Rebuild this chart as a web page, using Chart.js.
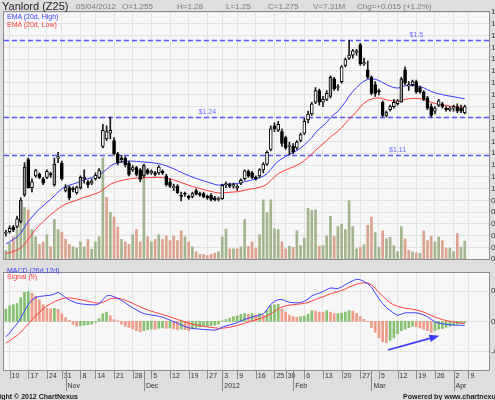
<!DOCTYPE html>
<html>
<head>
<meta charset="utf-8">
<title>Yanlord (Z25)</title>
<script src="https://cdn.jsdelivr.net/npm/chart.js@4.4.1/dist/chart.umd.min.js"></script>
<style>
  html, body { margin:0; padding:0; }
  body { width:495px; height:400px; overflow:hidden; position:relative; background:#dedede; font-family:"Liberation Sans", Arial, sans-serif; }
  canvas { position:absolute; left:-40px; }
  #main { top:0; }
  #macdc { top:266px; }
  .t { position:absolute; white-space:nowrap; line-height:1; }
  .i { font-size:8px; color:#7a7a7a; top:2.5px; }
</style>
</head>
<body>
<canvas id="main" width="580" height="266" style="width:580px;height:266px"></canvas>
<canvas id="macdc" width="580" height="134" style="width:580px;height:134px"></canvas>

<div class="t" style="left:2px;top:1px;font-size:11px;color:#222">Yanlord (Z25)</div>
<div class="t i" style="left:76px">05/04/2012</div>
<div class="t i" style="left:122px">O=1.255</div>
<div class="t i" style="left:177px">H=1.28</div>
<div class="t i" style="left:226px">L=1.25</div>
<div class="t i" style="left:268px">C=1.275</div>
<div class="t i" style="left:313px">V=7.31M</div>
<div class="t i" style="left:357px">Chg=+0.015 (+1.2%)</div>

<div class="t" style="left:7px;top:13px;font-size:7px;color:#3a3aff">EMA (20d, High)</div>
<div class="t" style="left:7px;top:20.5px;font-size:7px;color:#ff3a3a">EMA (20d, Low)</div>
<div class="t" style="left:7px;top:266.5px;font-size:7px;color:#3a3aff">MACD (26d,12d)</div>
<div class="t" style="left:7px;top:273px;font-size:7px;color:#ff3a3a">Signal (9)</div>

<div class="t" style="right:417px;top:393px;font-size:7px;font-weight:bold;color:#222">Copyright © 2012 ChartNexus</div>
<div class="t" style="left:403px;top:393px;font-size:7px;font-weight:bold;color:#222">Powered by www.chartnexus.com</div>

<script>
// ---------- DATA ----------
const dates = [
 '2011-10-07','2011-10-10','2011-10-11','2011-10-12','2011-10-13','2011-10-14','2011-10-17','2011-10-18','2011-10-19','2011-10-20',
 '2011-10-21','2011-10-24','2011-10-25','2011-10-27','2011-10-28','2011-10-31','2011-11-01','2011-11-02','2011-11-03','2011-11-04',
 '2011-11-08','2011-11-09','2011-11-10','2011-11-11','2011-11-14','2011-11-15','2011-11-16','2011-11-17','2011-11-18','2011-11-21',
 '2011-11-22','2011-11-23','2011-11-24','2011-11-25','2011-11-28','2011-11-29','2011-11-30','2011-12-01','2011-12-02','2011-12-05',
 '2011-12-06','2011-12-07','2011-12-08','2011-12-09','2011-12-12','2011-12-13','2011-12-14','2011-12-15','2011-12-16','2011-12-19',
 '2011-12-20','2011-12-21','2011-12-22','2011-12-23','2011-12-27','2011-12-28','2011-12-29','2011-12-30','2012-01-03','2012-01-04',
 '2012-01-05','2012-01-06','2012-01-09','2012-01-10','2012-01-11','2012-01-12','2012-01-13','2012-01-16','2012-01-17','2012-01-18',
 '2012-01-19','2012-01-20','2012-01-25','2012-01-26','2012-01-27','2012-01-30','2012-01-31','2012-02-01','2012-02-02','2012-02-03',
 '2012-02-06','2012-02-07','2012-02-08','2012-02-09','2012-02-10','2012-02-13','2012-02-14','2012-02-15','2012-02-16','2012-02-17',
 '2012-02-20','2012-02-21','2012-02-22','2012-02-23','2012-02-24','2012-02-27','2012-02-28','2012-02-29','2012-03-01','2012-03-02',
 '2012-03-05','2012-03-06','2012-03-07','2012-03-08','2012-03-09','2012-03-12','2012-03-13','2012-03-14','2012-03-15','2012-03-16',
 '2012-03-19','2012-03-20','2012-03-21','2012-03-22','2012-03-23','2012-03-26','2012-03-27','2012-03-28','2012-03-29','2012-03-30',
 '2012-04-02','2012-04-03','2012-04-04','2012-04-05','2012-04-09','2012-04-10','2012-04-11','2012-04-12','2012-04-13','2012-04-16'
];

const open = [
 .845,.850,.866,.868,.885,.975,1.095,1.000,1.040,1.045, 1.030,1.035,1.048,1.010,1.100,1.083,.990,1.000,.998,.982,
 1.000,1.030,1.020,1.015,1.030,1.035,1.140,1.165,1.185,1.160, 1.115,1.100,1.100,1.083,1.060,1.068,1.060,1.040,1.060,1.050,
 1.050,1.050,1.055,1.040,1.020,1.000,1.005,.975,.980,.970, .970,.990,.980,.980,.970,.975,.965,.960,.962,1.010,
 1.010,1.005,1.000,1.015,1.030,1.055,1.050,1.035,1.040,1.060, 1.080,1.130,1.210,1.195,1.190,1.170,1.140,1.140,1.135,1.160,
 1.185,1.230,1.250,1.290,1.330,1.290,1.300,1.310,1.370,1.340, 1.360,1.415,1.440,1.450,1.460,1.485,1.420,1.400,1.375,1.350,
 1.330,1.290,1.245,1.265,1.275,1.285,1.290,1.400,1.345,1.350, 1.360,1.340,1.325,1.305,1.275,1.260,1.280,1.285,1.270,1.265,
 1.270,1.275,1.270,1.255
];
const high = [
 .855,.870,.872,.903,.965,1.085,1.100,1.030,1.062,1.050, 1.035,1.060,1.052,1.100,1.120,1.090,1.010,1.005,1.003,1.005,
 1.040,1.060,1.025,1.030,1.050,1.065,1.215,1.210,1.240,1.170, 1.120,1.110,1.105,1.090,1.075,1.072,1.065,1.080,1.065,1.060,
 1.055,1.075,1.060,1.045,1.030,1.012,1.010,.985,.985,.975, .985,.995,.985,.985,.975,.980,.970,.968,1.012,1.020,
 1.015,1.015,1.010,1.030,1.060,1.060,1.055,1.040,1.065,1.085, 1.125,1.210,1.220,1.225,1.200,1.175,1.155,1.150,1.160,1.185,
 1.235,1.260,1.290,1.340,1.335,1.310,1.330,1.380,1.375,1.350, 1.415,1.440,1.500,1.470,1.470,1.490,1.440,1.430,1.380,1.360,
 1.335,1.295,1.260,1.280,1.300,1.300,1.375,1.410,1.360,1.365, 1.365,1.345,1.330,1.310,1.285,1.275,1.300,1.290,1.275,1.275,
 1.280,1.285,1.280,1.280
];
const low = [
 .835,.845,.850,.862,.880,.970,.998,.985,1.035,1.030, 1.010,1.030,1.035,1.005,1.085,1.025,.985,.958,.985,.978,
 .995,1.015,1.000,1.010,1.025,1.030,1.135,1.160,1.165,1.110, 1.078,1.085,1.070,1.040,1.055,1.040,1.020,1.035,1.045,1.045,
 1.040,1.045,1.045,1.005,1.000,.990,.980,.955,.970,.960, .965,.975,.970,.965,.960,.955,.955,.955,.960,1.000,
 1.000,.998,.990,1.010,1.025,1.035,1.030,1.025,1.035,1.050, 1.075,1.125,1.190,1.190,1.140,1.130,1.110,1.115,1.130,1.155,
 1.180,1.220,1.245,1.285,1.280,1.275,1.295,1.305,1.330,1.330, 1.355,1.410,1.435,1.440,1.450,1.415,1.415,1.370,1.315,1.310,
 1.315,1.240,1.240,1.260,1.270,1.280,1.290,1.350,1.330,1.345, 1.320,1.320,1.295,1.265,1.240,1.250,1.275,1.270,1.260,1.260,
 1.260,1.255,1.255,1.250
];
const close = [
 .848,.862,.856,.894,.958,1.070,1.000,1.020,1.058,1.035, 1.015,1.055,1.042,1.080,1.105,1.030,1.000,.965,.992,1.000,
 1.035,1.035,1.010,1.022,1.042,1.058,1.195,1.190,1.195,1.115, 1.085,1.095,1.078,1.045,1.068,1.045,1.028,1.075,1.048,1.055,
 1.045,1.070,1.050,1.010,1.005,1.003,.982,.970,.978,.965, .980,.978,.975,.968,.965,.960,.958,.962,1.008,1.012,
 1.005,1.010,1.005,1.025,1.057,1.040,1.035,1.030,1.060,1.080, 1.120,1.200,1.200,1.215,1.150,1.135,1.140,1.120,1.155,1.180,
 1.225,1.250,1.285,1.330,1.290,1.300,1.320,1.375,1.335,1.340, 1.410,1.435,1.450,1.465,1.465,1.420,1.425,1.375,1.320,1.320,
 1.325,1.245,1.255,1.275,1.290,1.295,1.370,1.355,1.350,1.360, 1.325,1.325,1.300,1.270,1.245,1.270,1.295,1.275,1.265,1.270,
 1.275,1.260,1.260,1.275
];
// volume in millions of shares
const volume = [
 3.5,6.5,9,12,18,21,20,12,9,6, 7,10,5,16,12,11,8,6,5,4.5,
 7,5,8,4,7,9,41,25,19,17, 13,8,7,6,10,12,7,36,9,7,
 8,10,8,9.5,7.5,9.5,7.5,11.5,9,7, 5,3,2,2,1.5,2,2.5,3,9,12.2,
 4.2,4.2,4.2,5,16,5.2,7,4.5,10,24, 19,24,12.4,12,7,4.2,5.2,4.8,11.5,5.5,
 8.5,20.6,19.8,20,5.2,5.5,9.5,17.3,9.3,13.2, 14.1,12,23.7,13.2,4.2,4.9,5.8,13.7,17,10.8,
 4.9,11.5,8.2,8.8,5.5,3.1,13.2,8.2,3.6,3, 2.6,2.4,11.5,7.5,9.3,6.9,8.9,7.5,4.5,4.5,
 3.1,10.4,4.9,7.31
];
const emaHigh = [
 .809,.816,.824,.832,.845,.865,.885,.900,.915,.927, .938,.950,.960,.972,.985,.996,1.003,1.008,1.012,1.016,
 1.021,1.026,1.030,1.034,1.038,1.042,1.052,1.062,1.073,1.080, 1.084,1.087,1.089,1.090,1.090,1.089,1.088,1.087,1.086,1.085,
 1.083,1.081,1.078,1.074,1.069,1.064,1.058,1.052,1.046,1.041, 1.036,1.031,1.027,1.023,1.019,1.015,1.011,1.008,1.010,1.011,
 1.012,1.013,1.014,1.016,1.020,1.023,1.026,1.029,1.033,1.039, 1.047,1.062,1.077,1.090,1.098,1.106,1.113,1.119,1.126,1.134,
 1.145,1.157,1.170,1.187,1.199,1.210,1.222,1.237,1.249,1.259, 1.275,1.291,1.311,1.327,1.340,1.352,1.362,1.368,1.370,1.368,
 1.364,1.357,1.350,1.344,1.340,1.338,1.341,1.346,1.347,1.347, 1.346,1.343,1.339,1.333,1.327,1.322,1.319,1.316,1.313,1.311,
 1.309,1.306,1.304,1.302
];
const emaLow = [
 .776,.779,.783,.788,.795,.808,.825,.842,.858,.872, .885,.897,.908,.918,.928,.937,.944,.949,.953,.957,
 .962,.967,.971,.975,.979,.984,.993,1.002,1.011,1.017, 1.021,1.024,1.027,1.029,1.031,1.032,1.032,1.033,1.034,1.034,
 1.035,1.035,1.034,1.032,1.029,1.026,1.022,1.017,1.013,1.008, 1.004,1.000,.997,.993,.990,.987,.984,.982,.981,.983,
 .984,.985,.986,.988,.991,.994,.996,.998,1.001,1.005, 1.012,1.024,1.036,1.047,1.054,1.060,1.065,1.070,1.076,1.083,
 1.092,1.102,1.114,1.127,1.138,1.149,1.160,1.172,1.182,1.191, 1.204,1.218,1.232,1.246,1.258,1.274,1.287,1.296,1.301,1.304,
 1.305,1.302,1.298,1.296,1.294,1.293,1.296,1.300,1.302,1.303, 1.303,1.302,1.300,1.296,1.290,1.286,1.283,1.281,1.279,1.277,
 1.275,1.274,1.273,1.272
];
const macd = [
 -.0254,-.0190,-.0110,-.0040,.0060,.0170,.0280,.0350,.0395,.0410, .0418,.0425,.0432,.0450,.0478,.0440,.0392,.0355,.0325,.0302,
 .0290,.0282,.0276,.0274,.0273,.0290,.0360,.0420,.0428,.0405, .0380,.0345,.0305,.0262,.0225,.0190,.0155,.0128,.0115,.0105,
 .0097,.0085,.0068,.0045,.0020,-.0005,-.0030,-.0058,-.0085,-.0105, -.0115,-.0122,-.0128,-.0133,-.0137,-.0141,-.0144,-.0130,-.0095,-.0075,
 -.0058,-.0040,-.0020,.0005,.0035,.0052,.0070,.0088,.0105,.0125, .0190,.0280,.0330,.0358,.0360,.0338,.0315,.0308,.0305,.0308,
 .0330,.0370,.0420,.0445,.0465,.0490,.0525,.0550,.0545,.0540, .0570,.0605,.0640,.0670,.0695,.0685,.0658,.0620,.0565,.0465,
 .0370,.0295,.0225,.0180,.0135,.0098,.0120,.0140,.0143,.0142, .0141,.0128,.0105,.0078,.0035,-.0010,-.0025,-.0038,-.0048,-.0055,
 -.0060,-.0063,-.0064,-.0064
];
const signal = [
 -.0357,-.0318,-.0275,-.0232,-.0175,-.0110,-.0045,.0030,.0095,.0150, .0210,.0255,.0290,.0322,.0350,.0372,.0385,.0387,.0380,.0370,
 .0358,.0346,.0333,.0320,.0305,.0298,.0315,.0345,.0372,.0382, .0378,.0368,.0350,.0325,.0298,.0268,.0240,.0213,.0190,.0168,
 .0148,.0130,.0113,.0096,.0076,.0054,.0032,.0012,-.0008,-.0028, -.0045,-.0058,-.0070,-.0080,-.0090,-.0098,-.0106,-.0113,-.0113,-.0105,
 -.0095,-.0083,-.0068,-.0050,-.0030,-.0012,.0008,.0027,.0045,.0065, .0090,.0125,.0165,.0205,.0235,.0255,.0268,.0276,.0282,.0288,
 .0297,.0312,.0335,.0360,.0385,.0405,.0428,.0455,.0475,.0490, .0510,.0535,.0565,.0590,.0612,.0628,.0635,.0632,.0600,.0548,
 .0475,.0420,.0358,.0305,.0270,.0250,.0232,.0218,.0210,.0200, .0188,.0172,.0152,.0128,.0098,.0072,.0050,.0030,.0014,.0002,
 -.0010,-.0020,-.0028,-.0035
];
const histogram = [
 .0102,.0129,.0139,.0146,.0193,.0239,.0246,.0231,.0208,.0177, .0139,.0108,.0104,.0108,.0100,.0062,.0031,.0008,-.0023,-.0039,
 -.0035,-.0031,-.0027,-.0023,-.0008,.0023,.0062,.0077,.0046,.0015, .0004,-.0023,-.0039,-.0050,-.0062,-.0077,-.0085,-.0077,-.0069,-.0062,
 -.0065,-.0058,-.0054,-.0058,-.0054,-.0062,-.0069,-.0062,-.0069,-.0077, -.0062,-.0050,-.0046,-.0042,-.0039,-.0035,-.0031,-.0023,.0004,.0015,
 .0027,.0039,.0046,.0058,.0064,.0059,.0064,.0052,.0064,.0052, .0090,.0129,.0136,.0141,.0102,.0077,.0052,.0039,.0033,.0039,
 .0044,.0059,.0090,.0085,.0077,.0075,.0090,.0077,.0064,.0065, .0069,.0077,.0090,.0085,.0064,.0039,.0018,-.0002,-.0052,-.0090,
 -.0136,-.0167,-.0175,-.0156,-.0136,-.0102,-.0077,-.0064,-.0052,-.0039, -.0044,-.0054,-.0064,-.0077,-.0090,-.0077,-.0064,-.0059,-.0049,-.0039,
 -.0031,-.0023,-.0015,-.0010
];
const dayTickDates = ['2011-10-10','2011-10-17','2011-10-24','2011-10-31','2011-11-08','2011-11-14','2011-11-21','2011-11-28',
 '2011-12-05','2011-12-12','2011-12-19','2011-12-27','2012-01-03','2012-01-09','2012-01-16','2012-01-25','2012-01-30',
 '2012-02-06','2012-02-13','2012-02-20','2012-02-27','2012-03-05','2012-03-12','2012-03-19','2012-03-26','2012-04-02','2012-04-09'];
const monthTickDates = ['2011-11-01','2011-12-01','2012-01-03','2012-02-01','2012-03-01','2012-04-02'];
const monthTickLabels = ['Nov','Dec','2012','Feb','Mar','Apr'];
const levelPrices = [1.5, 1.24, 1.11];
const levelLabels = ['$1.5', '$1.24', '$1.11'];

// ---------- STYLE / CONFIG ----------
const FONT = '"Liberation Sans", Arial, Helvetica, sans-serif';
Chart.defaults.font.family = FONT;
Chart.defaults.font.size = 7;
Chart.defaults.color = '#333';

const VOL_UP = '#a3b48e', VOL_DN = '#dba38e';
const HIST_UP = '#86c070', HIST_DN = '#ee9c88';
const GRID = '#e2e2e2';
// candles drawn with a grey body in the source chart
const greyCandleDates = ['2011-10-13','2011-10-14','2011-10-27','2011-11-08','2011-12-01','2012-02-15','2012-03-13'];
const levelLabelSlot = [110, 54, 105];
const arrowFrom = {i: 102.4, v: -0.0472}, arrowTo = {i: 116.2, v: -0.0235};

const dayTickSet = new Set(dayTickDates.map(d => dates.indexOf(d)));
const monthTickMap = new Map(monthTickDates.map((d, k) => [dates.indexOf(d), monthTickLabels[k]]));
const greySet = new Set(greyCandleDates);

const wickData = high.map((h, i) => [low[i], h]);
const bodyData = open.map((o, i) => [Math.min(o, close[i]), Math.max(o, close[i])]);
const bodyColor = open.map((o, i) => close[i] < o ? '#000000' : (greySet.has(dates[i]) ? '#9c9c9c' : '#ffffff'));
const volColor = volume.map((v, i) => (i === 0 || close[i] >= close[i - 1]) ? VOL_UP : VOL_DN);
const histColor = histogram.map((h, i) => (i === 0 || h > histogram[i - 1]) ? HIST_UP : HIST_DN);

const gridX = c => dayTickSet.has(c.index) ? GRID : 'rgba(0,0,0,0)';

const panelPlugin = {
  id: 'panel',
  beforeDraw(chart) {
    const {ctx, chartArea: a} = chart;
    ctx.save();
    ctx.fillStyle = '#f7f7f7';
    ctx.fillRect(a.left, a.top, a.right - a.left, a.bottom - a.top);
    ctx.restore();
  },
  afterDraw(chart) {
    const {ctx, chartArea: a} = chart;
    ctx.save();
    ctx.strokeStyle = '#8e8e8e';
    ctx.lineWidth = 1;
    ctx.strokeRect(Math.round(a.left) - 0.5, Math.round(a.top) - 0.5, Math.round(a.right - a.left) + 1, Math.round(a.bottom - a.top) + 1);
    ctx.restore();
  }
};

const levelPlugin = {
  id: 'levels',
  beforeDatasetsDraw(chart) {
    const {ctx, chartArea: a, scales} = chart;
    const x = scales.x, y = scales.y;
    ctx.save();
    ctx.beginPath(); ctx.rect(a.left, a.top, a.right - a.left, a.bottom - a.top); ctx.clip();
    levelPrices.forEach((p, k) => {
      const py = Math.round(y.getPixelForValue(p)) + 0.5;
      ctx.strokeStyle = '#5656ff'; ctx.lineWidth = 1.3; ctx.setLineDash([5, 3]);
      ctx.beginPath(); ctx.moveTo(a.left, py); ctx.lineTo(a.right, py); ctx.stroke();
      ctx.setLineDash([]);
      ctx.fillStyle = '#6a6aff'; ctx.font = '7px ' + FONT; ctx.textAlign = 'center'; ctx.textBaseline = 'middle';
      ctx.fillText(levelLabels[k], x.getPixelForValue(levelLabelSlot[k]), py - 5);
    });
    ctx.restore();
  }
};

const tickMarkPlugin = {
  id: 'tickmarks',
  afterDraw(chart) {
    const {ctx, chartArea: a, scales} = chart;
    const x = scales.x;
    ctx.save();
    ctx.strokeStyle = '#8a8a8a'; ctx.lineWidth = 1;
    dayTickSet.forEach(i => {
      const px = Math.round(x.getPixelForValue(i)) + 0.5;
      ctx.beginPath(); ctx.moveTo(px, a.bottom); ctx.lineTo(px, a.bottom + 9); ctx.stroke();
    });
    monthTickMap.forEach((lbl, i) => {
      const px = Math.round(x.getPixelForValue(i)) + 0.5;
      ctx.beginPath(); ctx.moveTo(px, a.bottom); ctx.lineTo(px, a.bottom + 21); ctx.stroke();
    });
    ctx.restore();
  }
};

const arrowPlugin = {
  id: 'arrow',
  afterDatasetsDraw(chart) {
    const {ctx, scales} = chart;
    const x = scales.x, y = scales.y;
    const x0 = x.getPixelForValue(arrowFrom.i), y0 = y.getPixelForValue(arrowFrom.v);
    const x1 = x.getPixelForValue(arrowTo.i), y1 = y.getPixelForValue(arrowTo.v);
    const ang = Math.atan2(y1 - y0, x1 - x0);
    const L = 10, W = 3.8;
    const bx = x1 - L * Math.cos(ang), by = y1 - L * Math.sin(ang);
    ctx.save();
    ctx.strokeStyle = '#3b3bff'; ctx.fillStyle = '#3b3bff'; ctx.lineWidth = 1.6;
    ctx.beginPath(); ctx.moveTo(x0, y0); ctx.lineTo(bx, by); ctx.stroke();
    ctx.beginPath(); ctx.moveTo(x1, y1);
    ctx.lineTo(bx - W * Math.sin(ang), by + W * Math.cos(ang));
    ctx.lineTo(bx + W * Math.sin(ang), by - W * Math.cos(ang));
    ctx.closePath(); ctx.fill();
    ctx.restore();
  }
};

// ---------- MAIN PANEL ----------
new Chart(document.getElementById('main'), {
  type: 'bar',
  data: {
    labels: dates,
    datasets: [
      {type: 'bar', label: 'Volume', data: volume, yAxisID: 'yv', backgroundColor: volColor, barThickness: 2, grouped: false, order: 5},
      {type: 'line', label: 'EMA (20d, High)', data: emaHigh, yAxisID: 'y', borderColor: '#3a3aff', borderWidth: 1, pointRadius: 0, order: 4},
      {type: 'line', label: 'EMA (20d, Low)', data: emaLow, yAxisID: 'y', borderColor: '#ff3a3a', borderWidth: 1, pointRadius: 0, order: 3},
      {type: 'bar', label: 'High-Low', data: wickData, yAxisID: 'y', backgroundColor: '#1a1a1a', barThickness: 1, grouped: false, order: 2},
      {type: 'bar', label: 'Open-Close', data: bodyData, yAxisID: 'y', backgroundColor: bodyColor, borderColor: '#000000', borderWidth: 1, borderSkipped: false, barThickness: 3, minBarLength: 1, grouped: false, order: 1}
    ]
  },
  options: {
    responsive: false, animation: false, events: [], devicePixelRatio: 1,
    layout: {padding: {top: 12, bottom: 2, left: 0, right: 0}},
    plugins: {legend: {display: false}, tooltip: {enabled: false}},
    scales: {
      x: {type: 'category', offset: true, display: true,
          ticks: {display: false}, grid: {offset: false, color: gridX, drawTicks: false}, border: {display: false},
          afterFit(s) { s.height = 0; }},
      y: {position: 'right', min: 0.7567, max: 1.5967,
          ticks: {stepSize: 0.04, includeBounds: false, autoSkip: false, padding: 2, font: {size: 8}, callback: v => v.toFixed(2)},
          grid: {color: GRID, drawTicks: false}, border: {display: false},
          afterFit(s) { s.width = 51; }},
      yv: {position: 'left', min: 0, max: 100,
           ticks: {stepSize: 5, includeBounds: false, autoSkip: false, padding: 0, font: {size: 7}, callback: v => (v >= 5 && v <= 45) ? v + 'M' : ''},
           grid: {display: false}, border: {display: false},
           afterFit(s) { s.width = 44; }}
    }
  },
  plugins: [panelPlugin, levelPlugin]
});

// ---------- MACD PANEL ----------
new Chart(document.getElementById('macdc'), {
  type: 'bar',
  data: {
    labels: dates,
    datasets: [
      {type: 'line', label: 'MACD (26d,12d)', data: macd, yAxisID: 'y', borderColor: '#4040ff', borderWidth: 1, pointRadius: 0, order: 1},
      {type: 'line', label: 'Signal (9)', data: signal, yAxisID: 'y', borderColor: '#ff4040', borderWidth: 1, pointRadius: 0, order: 2},
      {type: 'bar', label: 'Histogram', data: histogram, yAxisID: 'yh', backgroundColor: histColor, barThickness: 2, grouped: false, order: 3}
    ]
  },
  options: {
    responsive: false, animation: false, events: [], devicePixelRatio: 1,
    layout: {padding: 0},
    plugins: {legend: {display: false}, tooltip: {enabled: false}},
    scales: {
      x: {type: 'category', offset: true, position: 'bottom',
          grid: {offset: false, color: gridX, drawTicks: false}, border: {display: false},
          ticks: {autoSkip: false, maxRotation: 0, minRotation: 0, align: 'start', labelOffset: 2, padding: 1.5,
                  font: {size: 7, lineHeight: 1.35}, color: '#333',
                  callback: (v, i) => {
                    const day = dayTickSet.has(i) ? String(parseInt(dates[i].slice(8), 10)) : '';
                    const m = monthTickMap.get(i);
                    return m ? [day, m] : day;
                  }},
          afterFit(s) { s.height = 30; }},
      y: {position: 'right', min: -0.08, max: 0.08,
          ticks: {stepSize: 0.05, includeBounds: false, autoSkip: false, padding: 2, font: {size: 8}, callback: v => v.toFixed(2)},
          grid: {color: GRID, drawTicks: false}, border: {display: false},
          afterFit(s) { s.width = 51; }},
      yh: {position: 'left', min: -0.04, max: 0.04,
           ticks: {display: false}, grid: {display: false}, border: {display: false},
           afterFit(s) { s.width = 44; }}
    }
  },
  plugins: [panelPlugin, tickMarkPlugin, arrowPlugin]
});
</script>
</body>
</html>
